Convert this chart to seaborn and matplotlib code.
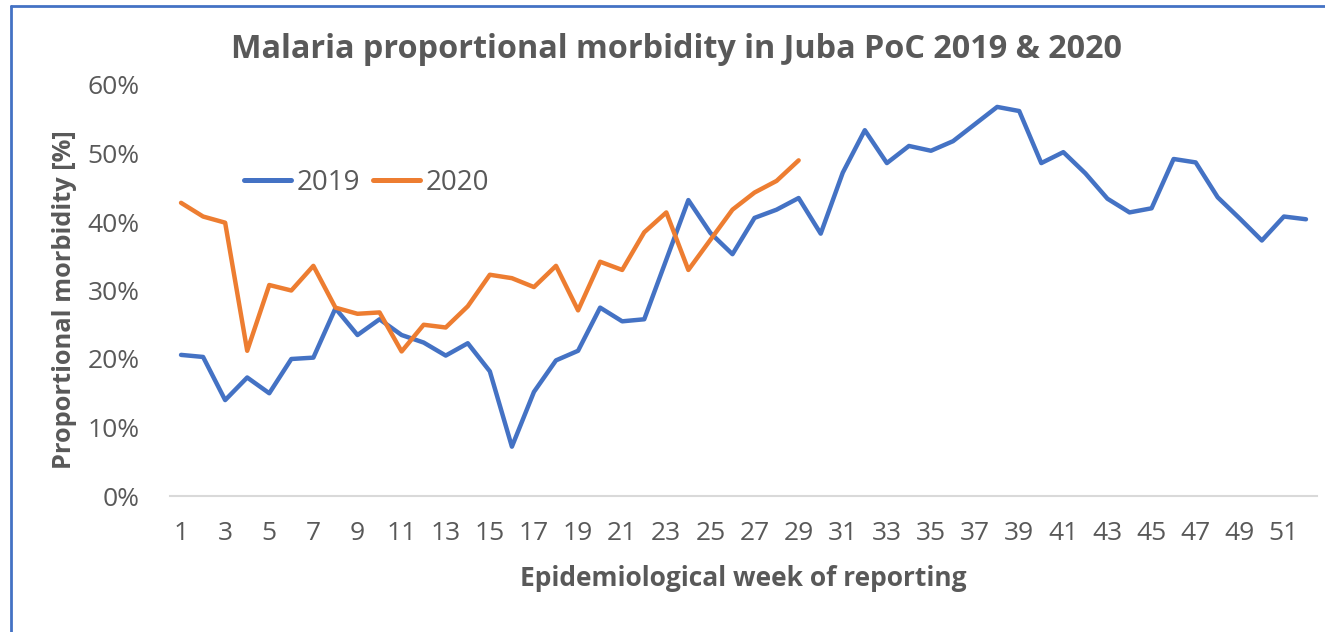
import matplotlib
matplotlib.use("Agg")
import matplotlib.pyplot as plt
import seaborn as sns
import pandas as pd
from matplotlib.lines import Line2D
from matplotlib.ticker import PercentFormatter

weeks = list(range(1, 53))
morbidity_2019 = [20.6, 20.3, 14.0, 17.3, 15.0, 20.0, 20.2, 27.4, 23.5, 25.8,
                  23.5, 22.4, 20.5, 22.3, 18.2, 7.2, 15.2, 19.8, 21.2, 27.5,
                  25.5, 25.8, 34.5, 43.2, 38.4, 35.3, 40.6, 41.8, 43.5, 38.3,
                  47.2, 53.4, 48.6, 51.1, 50.4, 51.8, 54.3, 56.8, 56.2, 48.6,
                  50.2, 47.1, 43.4, 41.4, 42.0, 49.2, 48.7, 43.6, 40.5, 37.3,
                  40.8, 40.4]
morbidity_2020 = [42.8, 40.8, 39.9, 21.2, 30.8, 30.0, 33.6, 27.5, 26.6, 26.8,
                  21.1, 25.0, 24.6, 27.7, 32.3, 31.8, 30.5, 33.6, 27.1, 34.2,
                  33.0, 38.5, 41.4, 33.0, 37.4, 41.8, 44.3, 46.0, 49.0]
years = ["2019", "2020"]
colors = ["#4472C4", "#ED7D31"]
xtick_labels = [str(w) for w in range(1, 52, 2)]

df = pd.concat([
    pd.DataFrame({"week": weeks, "value": [v / 100 for v in morbidity_2019], "year": "2019"}),
    pd.DataFrame({"week": weeks[:len(morbidity_2020)], "value": [v / 100 for v in morbidity_2020], "year": "2020"}),
])

sns.set_theme(style="white")
plt.rcParams["font.family"] = ["Open Sans", "DejaVu Sans"]
grey = "#595959"

fig = plt.figure(figsize=(13.25, 6.32), dpi=100)
ax = fig.add_axes([170 / 1325, 1 - 496 / 632, (1317 - 170) / 1325, (496 - 85) / 632])

sns.lineplot(data=df, x="week", y="value", hue="year", palette=colors,
             linewidth=3.2, legend=False, ax=ax, solid_capstyle="round",
             solid_joinstyle="round")

ax.set_xlim(0.5, 52.5)
ax.set_ylim(0, 0.6)
ax.set_xticks(range(1, 52, 2))
ax.set_xticklabels(xtick_labels)
ax.set_yticks([i / 10 for i in range(7)])
ax.yaxis.set_major_formatter(PercentFormatter(1.0, decimals=0))
ax.tick_params(axis="both", length=0, labelsize=19, colors=grey)
ax.tick_params(axis="y", pad=22)
ax.tick_params(axis="x", pad=18)

for side in ["top", "right", "left"]:
    ax.spines[side].set_visible(False)
ax.spines["bottom"].set_color("#D9D9D9")
ax.spines["bottom"].set_linewidth(1.5)

ax.set_xlabel("Epidemiological week of reporting", fontsize=19, fontweight="bold",
              color=grey, labelpad=14)
ax.set_ylabel("Proportional morbidity [%]", fontsize=18.3, fontweight="bold",
              color=grey)
ax.yaxis.set_label_coords(-0.081, 0.478)

fig.text(677 / 1325, 1 - 50 / 632, "Malaria proportional morbidity in Juba PoC 2019 & 2020",
         ha="center", va="center", fontsize=23.3, fontweight="bold", color=grey)

handles = [Line2D([0], [0], color=c, linewidth=3.6) for c in colors]
leg = fig.legend(handles, years, loc="center left",
                 bbox_to_anchor=(244 / 1325, 1 - 183 / 632), ncol=2, frameon=False,
                 fontsize=20, handlelength=1.7, handletextpad=0.2,
                 columnspacing=0.45, borderaxespad=0, borderpad=0)
for t in leg.get_texts():
    t.set_color(grey)

# blue chart-area border (left and top edges visible)
fig.add_artist(Line2D([11 / 1325, 11 / 1325], [0, 1 - 6 / 632], color="#4472C4",
                      linewidth=2, transform=fig.transFigure))
fig.add_artist(Line2D([11 / 1325, 1], [1 - 6 / 632, 1 - 6 / 632], color="#4472C4",
                      linewidth=2, transform=fig.transFigure))

fig.savefig("out.png", dpi=100)
